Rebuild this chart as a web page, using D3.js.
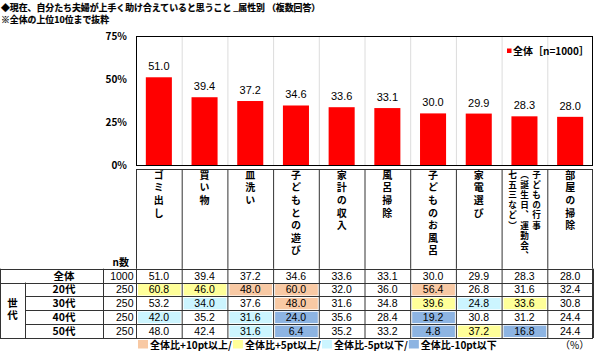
<!DOCTYPE html>
<html><head><meta charset="utf-8">
<script src="https://cdn.jsdelivr.net/npm/d3@7"></script>
<style>
html,body{margin:0;padding:0;background:#fff;}
svg{display:block;}
text{font-family:"Noto Sans CJK JP","Liberation Sans",sans-serif;}
.num{font-family:"Liberation Sans",Arial,sans-serif;}
.vt{writing-mode:vertical-rl;}
</style></head><body>
<script>
// ---------- data ----------
const title1 = "◆現在、自分たち夫婦が上手く助け合えていると思うこと _属性別 （複数回答）";
const title2 = "※全体の上位10位まで抜粋";
const categories = ["ゴミ出し","買い物","皿洗い","子どもとの遊び","家計の収入","風呂掃除","子どものお風呂","家電選び","子どもの行事（誕生日、運動会、七五三など）","部屋の掃除"];
// label column breaks for vertical text (right column first)
const categoryLines = [["ゴミ出し"],["買い物"],["皿洗い"],["子どもとの遊び"],["家計の収入"],["風呂掃除"],["子どものお風呂"],["家電選び"],["子どもの行事","（誕生日、運動会、","七五三など）"],["部屋の掃除"]];
const seriesName = "全体［n=1000］";
const total = [51.0,39.4,37.2,34.6,33.6,33.1,30.0,29.9,28.3,28.0];
const rowLabels = ["全体","20代","30代","40代","50代"];
const rowN = [1000,250,250,250,250];
const age20 = [60.8,46.0,48.0,60.0,32.0,36.0,56.4,26.8,31.6,32.4];
const age30 = [53.2,34.0,37.6,48.0,31.6,34.8,39.6,24.8,33.6,30.8];
const age40 = [42.0,35.2,31.6,24.0,35.6,28.4,19.2,30.8,31.2,24.4];
const age50 = [48.0,42.4,31.6,6.4,35.2,33.2,4.8,37.2,16.8,24.4];
const yTicks = [0,25,50,75];
const groupLabel = "世代";
const nLabel = "n数";
const legendItems = ["全体比+10pt以上/","全体比+5pt以上/","全体比-5pt以下/","全体比-10pt以下"];
const unitLabel = "（%）";

// ---------- layout ----------
const W=600,H=351;
const L=136,R=593,T=36,B=165;
const labTop=169, tabTop=268.7, rowH=13.86;
const colors = {hi10:"#F8C9A4", hi5:"#FFFF99", lo5:"#CCF5FF", lo10:"#8DB4E2"};
const legendColors=[colors.hi10,colors.hi5,colors.lo5,colors.lo10];

const svg=d3.select("body").append("svg").attr("width",W).attr("height",H);

// titles
svg.append("text").attr("x",1).attr("y",10.5).attr("font-size",8.9).attr("font-weight","bold").attr("stroke","#000").attr("stroke-width",0.2).text(title1);
svg.append("text").attr("x",1).attr("y",22.5).attr("font-size",8.9).attr("font-weight","bold").attr("stroke","#000").attr("stroke-width",0.2).text(title2);

const x=d3.scaleBand().domain(categories).range([L,R]).padding(0);
const xb=d3.scaleBand().domain(categories).range([L,R]).paddingInner(0.43).paddingOuter(0.215);
const y=d3.scaleLinear().domain([0,75]).range([B,T]);

// vertical gridlines
svg.append("g").selectAll("line").data(categories.slice(1)).join("line")
  .attr("x1",d=>x(d)+0.5).attr("x2",d=>x(d)+0.5).attr("y1",T).attr("y2",B)
  .attr("stroke","#dcdcdc").attr("stroke-width",1);

// bars
svg.append("g").selectAll("rect").data(categories).join("rect")
  .attr("x",d=>xb(d)).attr("width",xb.bandwidth())
  .attr("y",(d,i)=>y(total[i])).attr("height",(d,i)=>B-y(total[i]))
  .attr("fill","#FF0000");
// bar labels
svg.append("g").selectAll("text").data(categories).join("text").attr("class","num")
  .attr("x",d=>x(d)+x.bandwidth()/2).attr("y",(d,i)=>y(total[i])-7)
  .attr("text-anchor","middle").attr("font-size",11).attr("fill","#000")
  .text((d,i)=>total[i].toFixed(1));

// plot border
svg.append("rect").attr("x",L+0.5).attr("y",T+0.5).attr("width",R-L-1).attr("height",B-T).attr("fill","none").attr("stroke","#000").attr("stroke-width",1);

// y axis
const yAxis=d3.axisLeft(y).tickValues(yTicks).tickFormat(d=>d+"%").tickSize(0).tickPadding(9);
const ga=svg.append("g").attr("transform",`translate(${L},0)`).call(yAxis);
ga.select(".domain").remove();
ga.selectAll("text").attr("font-family","Liberation Sans, Arial, sans-serif").attr("font-size",10).attr("font-weight","bold").attr("fill","#000");

// legend
svg.append("rect").attr("x",507).attr("y",48.5).attr("width",4.5).attr("height",4.5).attr("fill","#FF0000");
svg.append("text").attr("x",513).attr("y",54.5).attr("font-size",10).attr("font-weight","bold").text(seriesName);

// category label boxes
const lab=svg.append("g");
lab.append("line").attr("x1",L).attr("x2",R).attr("y1",labTop+0.5).attr("y2",labTop+0.5).attr("stroke","#333");
categories.forEach(c=>{
  lab.append("line").attr("x1",x(c)+0.5).attr("x2",x(c)+0.5).attr("y1",labTop).attr("y2",tabTop).attr("stroke","#333");
});
lab.append("line").attr("x1",R-0.5).attr("x2",R-0.5).attr("y1",labTop).attr("y2",tabTop).attr("stroke","#333");
categoryLines.forEach((lines,i)=>{
  const cx=x(categories[i])+x.bandwidth()/2;
  const multi=lines.length>1;
  const fs=multi?8.6:10, step=multi?10.2:12.6, colGap=12;
  lines.forEach((ln,j)=>{
    const lx=cx+(lines.length-1)/2*colGap - j*colGap;
    lab.append("text").attr("class","vt").attr("x",lx).attr("y",170)
      .attr("font-size",fs).attr("font-weight","bold")
      .style("letter-spacing",(step-fs)+"px").text(ln);
  });
});

// n header
svg.append("text").attr("x",129).attr("y",266).attr("text-anchor","end").attr("font-size",10).attr("font-weight","bold").text(nLabel);

// table
const tab=svg.append("g");
const rows=[total,age20,age30,age40,age50];
function cellColor(v,base){const d=v-base; if(d>=10)return colors.hi10; if(d>=5)return colors.hi5; if(d<=-10)return colors.lo10; if(d<=-5)return colors.lo5; return null;}
rows.forEach((vals,r)=>{
  const ry=tabTop+r*rowH;
  vals.forEach((v,i)=>{
    const c=categories[i];
    if(r>0){const col=cellColor(v,total[i]); if(col) tab.append("rect").attr("x",x(c)+2).attr("y",ry+1.5).attr("width",x.bandwidth()-3).attr("height",rowH-2.5).attr("fill",col);}
    tab.append("text").attr("class","num").attr("x",x(c)+x.bandwidth()/2).attr("y",ry+rowH/2+4)
      .attr("text-anchor","middle").attr("font-size",10.5).text(v.toFixed(1));
  });
  tab.append("text").attr("x",64).attr("y",ry+rowH/2+4).attr("text-anchor","middle").attr("font-size",10.5).attr("font-weight","bold").text(rowLabels[r]);
  tab.append("text").attr("class","num").attr("x",133.5).attr("y",ry+rowH/2+4).attr("text-anchor","end").attr("font-size",10.5).text(rowN[r]);
});
// table lines
const tb=tabTop+rows.length*rowH;
for(let r=0;r<=rows.length;r++){
  const yy=Math.round(tabTop+r*rowH)+0.5;
  const x1=(r>=2&&r<=4)?25:0;
  tab.append("line").attr("x1",x1).attr("x2",R).attr("y1",yy).attr("y2",yy).attr("stroke","#333");
}
[0.5,103.5,136.5].forEach(xx=>tab.append("line").attr("x1",xx).attr("x2",xx).attr("y1",tabTop).attr("y2",tb).attr("stroke","#333"));
tab.append("line").attr("x1",25.5).attr("x2",25.5).attr("y1",tabTop+rowH).attr("y2",tb).attr("stroke","#333");
categories.forEach(c=>tab.append("line").attr("x1",x(c)+x.bandwidth()+0.5).attr("x2",x(c)+x.bandwidth()+0.5).attr("y1",tabTop).attr("y2",tb).attr("stroke","#333"));
tab.append("line").attr("x1",R-0.5).attr("x2",R-0.5).attr("y1",tabTop).attr("y2",tb).attr("stroke","#333");
// 世代 (vertical)
tab.append("text").attr("class","vt").attr("x",12.5).attr("y",298).attr("font-size",10.5).attr("font-weight","bold")
  .style("letter-spacing","1.5px").text(groupLabel);

// bottom legend
let lx=138;
const lg=svg.append("g");
legendItems.forEach((t,i)=>{
  lg.append("rect").attr("x",lx).attr("y",340).attr("width",10).attr("height",8.5).attr("fill",legendColors[i]);
  const tx=lg.append("text").attr("x",lx+12).attr("y",348.5).attr("font-size",10).attr("font-weight","bold").text(t);
  lx+=12+tx.node().getComputedTextLength()+1;
});
svg.append("text").attr("x",560).attr("y",348.5).attr("font-size",10).text(unitLabel);
</script>
</body></html>
